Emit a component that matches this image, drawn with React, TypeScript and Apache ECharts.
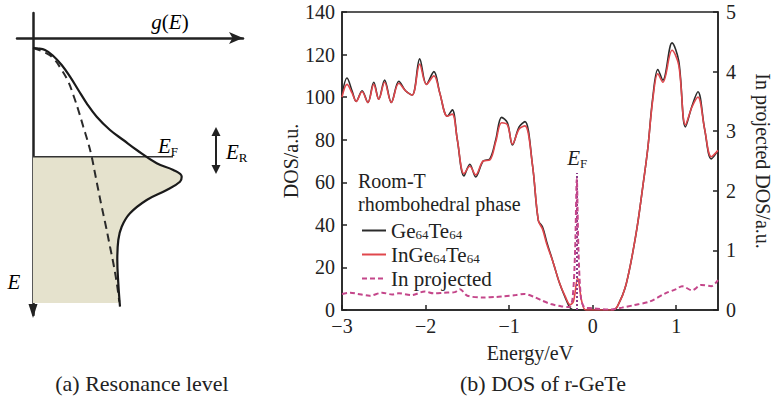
import React, { useEffect, useRef } from 'react';
import * as echarts from 'echarts';

const FONT = '"Liberation Serif", "Times New Roman", serif';
const INK = '#222222';

// ---------- Panel (b): DOS of r-GeTe ----------
// Ge64Te64 total DOS [energy eV, DOS a.u.]
const geTe: number[][] = [
  [-3.0, 101], [-2.94, 109], [-2.88, 103], [-2.83, 98], [-2.76, 103], [-2.69, 97.5],
  [-2.62, 107], [-2.56, 99], [-2.49, 108], [-2.41, 97.5], [-2.32, 107.5], [-2.24, 103],
  [-2.16, 101], [-2.07, 118], [-1.99, 106], [-1.9, 112], [-1.83, 102], [-1.74, 91],
  [-1.68, 94], [-1.62, 80], [-1.54, 63], [-1.47, 68.5], [-1.4, 62.5], [-1.31, 70],
  [-1.23, 71], [-1.16, 80], [-1.09, 90.5], [-1.02, 88], [-0.96, 77.5], [-0.88, 86],
  [-0.81, 88.5], [-0.72, 68], [-0.65, 42], [-0.6, 39], [-0.55, 32], [-0.47, 22],
  [-0.4, 13], [-0.33, 6], [-0.27, 1], [-0.22, 0], [0.25, 0], [0.3, 2], [0.4, 12],
  [0.52, 36], [0.6, 58], [0.66, 76], [0.72, 100], [0.78, 113], [0.84, 108],
  [0.95, 125.5], [1.03, 117], [1.11, 86], [1.19, 96], [1.26, 102.5], [1.34, 85],
  [1.42, 71], [1.5, 75],
];

// InGe64Te64 total DOS
const inGeTe: number[][] = [
  [-3.0, 100], [-2.94, 106], [-2.88, 102], [-2.83, 98], [-2.76, 102.5], [-2.69, 97.5],
  [-2.62, 106], [-2.56, 99], [-2.49, 107], [-2.41, 97.5], [-2.32, 106.5], [-2.24, 103],
  [-2.16, 101], [-2.07, 115.5], [-1.99, 106], [-1.9, 110], [-1.83, 102], [-1.74, 91],
  [-1.68, 92], [-1.62, 80], [-1.54, 64], [-1.47, 67.5], [-1.4, 63.5], [-1.31, 70],
  [-1.23, 70.5], [-1.16, 79], [-1.09, 88], [-1.02, 87], [-0.96, 78], [-0.88, 85],
  [-0.81, 86.5], [-0.72, 68], [-0.65, 42], [-0.6, 38], [-0.55, 31], [-0.47, 22],
  [-0.4, 13], [-0.33, 6.5], [-0.27, 2.5], [-0.23, 4], [-0.18, 15], [-0.13, 4],
  [-0.08, 0], [0.23, 0], [0.3, 2], [0.4, 12], [0.52, 36], [0.6, 58], [0.66, 76],
  [0.72, 99], [0.78, 111], [0.84, 107], [0.95, 122], [1.03, 115], [1.11, 87],
  [1.19, 95.5], [1.26, 100], [1.34, 85], [1.42, 72], [1.5, 75],
];

// In projected DOS (right axis)
const inProj: number[][] = [
  [-3.0, 0.27], [-2.9, 0.29], [-2.81, 0.27], [-2.67, 0.24], [-2.52, 0.29], [-2.4, 0.26],
  [-2.32, 0.28], [-2.17, 0.25], [-2.01, 0.31], [-1.9, 0.28], [-1.78, 0.29], [-1.65, 0.3],
  [-1.59, 0.35], [-1.5, 0.24], [-1.31, 0.21], [-1.15, 0.22], [-1.07, 0.23], [-0.92, 0.25],
  [-0.82, 0.27], [-0.7, 0.22], [-0.61, 0.16], [-0.5, 0.1], [-0.37, 0.06], [-0.28, 0.05],
  [-0.24, 0.2], [-0.21, 1.0], [-0.19, 2.2], [-0.17, 1.0], [-0.14, 0.2], [-0.1, 0.05],
  [-0.01, 0.03], [0.21, 0.01], [0.35, 0.04], [0.49, 0.08], [0.68, 0.14], [0.87, 0.28],
  [1.0, 0.35], [1.07, 0.4], [1.19, 0.33], [1.3, 0.42], [1.42, 0.4], [1.5, 0.5],
];

const fermiEnergy = -0.185;
const fermiMarkTop = 2.3;

const seriesNames = ['Ge64Te64', 'InGe64Te64', 'In projected'];
const legendLabels: Record<string, string> = {
  Ge64Te64: 'Ge{sub|64}Te{sub|64}',
  InGe64Te64: 'InGe{sub|64}Te{sub|64}',
  'In projected': 'In projected',
};

// ---------- Panel (a): resonance level schematic (g rightwards, E downwards) ----------
const gSolid: number[][] = [
  [0, 10], [4, 10.3], [12, 12], [20.3, 18], [28.7, 27], [37, 38.7], [45.3, 52],
  [53.7, 65.3], [63.7, 78.7], [77, 92], [90.3, 102], [103.7, 112], [123.7, 125.3],
  [140.3, 132], [148.7, 138.7], [147, 143.7], [133.7, 152], [113.7, 162], [97, 175.3],
  [88.7, 188.7], [85.3, 202], [84.3, 222], [85.3, 245.3], [87, 268.7],
];
const gDashed: number[][] = [
  [0, 10], [10.3, 13.7], [20.3, 20.3], [28.7, 32], [35.3, 43.7], [40.3, 57], [45.3, 72],
  [50.3, 88.7], [55.3, 105.3], [58.7, 118.7], [62, 135.3], [65.3, 152], [68.7, 168.7],
  [73, 188.7], [77, 208.7], [81, 228.7], [84.3, 248.7], [86.3, 263.7],
];
const fermiLevelA = 118.7;
const fermiLineA: number[][] = [[0, fermiLevelA], [140, fermiLevelA]];
const filledEdge: number[][] = [
  [0, fermiLevelA], [113, fermiLevelA], [119, 122.5], [126, 126.3], [133, 129.3], [140.3, 132],
  [145, 135], [148.7, 138.7], [148.8, 141.5], [147, 143.7], [141, 147.6], [133.7, 152],
  [123, 157], [113.7, 162], [104, 168.5], [97, 175.3], [92, 182], [88.7, 188.7],
  [86.5, 195], [85.3, 202], [84.5, 212], [84.3, 222], [84.6, 234], [85.3, 245.3],
  [86, 256], [86.6, 265], [0, 265],
];

export default function App() {
  const ref = useRef<HTMLDivElement>(null);

  useEffect(() => {
    const chart = echarts.init(ref.current!, null, { renderer: 'svg' });

    const tickLabel = { fontFamily: FONT, fontSize: 20, color: INK };
    const richE = {
      i: { fontFamily: FONT, fontStyle: 'italic', fontSize: 21, color: INK, lineHeight: 24 },
      n: { fontFamily: FONT, fontSize: 21, color: INK, lineHeight: 24 },
      s: { fontFamily: FONT, fontSize: 13, color: INK, lineHeight: 13, verticalAlign: 'bottom' },
    };
    const frameAxisLine = { show: true, onZero: false, lineStyle: { color: INK, width: 1.5 } };
    const inTick = { inside: true, length: 5, lineStyle: { color: INK, width: 1.5 } };

    const option: any = {
      animation: false,
      backgroundColor: '#ffffff',
      textStyle: { fontFamily: FONT },
      grid: [
        { left: 342, top: 12, width: 385, height: 298, show: true, borderColor: INK, borderWidth: 1.5, containLabel: false },
        { left: 17, top: 13, width: 226, height: 302, show: false, containLabel: false },
      ],
      xAxis: [
        {
          gridIndex: 0, type: 'value', min: -3, max: 1.5, interval: 1,
          name: 'Energy/eV', nameLocation: 'middle', nameGap: 33,
          nameTextStyle: { fontFamily: FONT, fontSize: 20, color: INK },
          axisLine: frameAxisLine,
          axisTick: inTick,
          axisLabel: { ...tickLabel, margin: 6, showMaxLabel: false, formatter: (v: number) => (v < 0 ? '\u2212' + Math.abs(v) : String(v)) },
          splitLine: { show: false },
        },
        {
          gridIndex: 1, type: 'value', min: -16, max: 210,
          axisLine: { show: true, onZero: true, symbol: ['none', 'arrow'], symbolSize: [9, 14], lineStyle: { color: INK, width: 2.5 } },
          axisTick: { show: false }, axisLabel: { show: false }, splitLine: { show: false },
        },
      ],
      yAxis: [
        {
          gridIndex: 0, type: 'value', min: 0, max: 140, interval: 20,
          name: 'DOS/a.u.', nameLocation: 'middle', nameGap: 32, nameRotate: 90,
          nameTextStyle: { fontFamily: FONT, fontSize: 20, color: INK },
          axisLine: frameAxisLine,
          axisTick: inTick,
          axisLabel: { ...tickLabel, margin: 7 },
          splitLine: { show: false },
        },
        {
          gridIndex: 0, type: 'value', min: 0, max: 5, interval: 1, position: 'right',
          name: 'In projected DOS/a.u.', nameLocation: 'middle', nameGap: 35, nameRotate: -90,
          nameTextStyle: { fontFamily: FONT, fontSize: 20, color: INK },
          axisLine: frameAxisLine,
          axisTick: inTick,
          axisLabel: { ...tickLabel, margin: 8 },
          splitLine: { show: false },
        },
        {
          gridIndex: 1, type: 'value', min: -25, max: 277, inverse: true,
          axisLine: { show: true, onZero: true, lineStyle: { color: INK, width: 2.5 } },
          axisTick: { show: false }, axisLabel: { show: false }, splitLine: { show: false },
        },
      ],
      legend: {
        left: 356, top: 215, orient: 'vertical', itemWidth: 24, itemHeight: 14, itemGap: 3,
        data: seriesNames,
        formatter: (name: string) => legendLabels[name],
        itemStyle: { opacity: 0 },
        textStyle: {
          fontFamily: FONT, fontSize: 21, color: INK, lineHeight: 20,
          rich: {
            sub: { fontFamily: FONT, fontSize: 13, color: INK, lineHeight: 12, verticalAlign: 'bottom' },
          },
        },
      },
      series: [
        // Panel (a)
        {
          type: 'custom', xAxisIndex: 1, yAxisIndex: 2, silent: true, z: 1,
          data: [[0, 0]],
          renderItem: (params: any, api: any) => {
            const pts = filledEdge.map((p) => api.coord(p));
            return { type: 'polygon', shape: { points: pts }, style: { fill: '#e5e2cd' } };
          },
        },
        {
          type: 'line', xAxisIndex: 1, yAxisIndex: 2, data: fermiLineA, symbol: 'none', z: 3,
          lineStyle: { color: '#333', width: 1.5 },
        },
        {
          type: 'line', xAxisIndex: 1, yAxisIndex: 2, data: gDashed, symbol: 'none', smooth: 0.4, z: 4,
          lineStyle: { color: '#2a2a2a', width: 2, type: [8, 5] },
        },
        {
          type: 'line', xAxisIndex: 1, yAxisIndex: 2, data: gSolid, symbol: 'none', smooth: 0.4, z: 5,
          lineStyle: { color: '#1a1a1a', width: 2.2 },
        },
        // Panel (b)
        {
          name: 'Ge64Te64', type: 'line', xAxisIndex: 0, yAxisIndex: 0, data: geTe, symbol: 'none', smooth: 0.35, z: 3,
          lineStyle: { color: '#2b2b2b', width: 1.6 }, itemStyle: { color: '#2b2b2b' },
        },
        {
          name: 'InGe64Te64', type: 'line', xAxisIndex: 0, yAxisIndex: 0, data: inGeTe, symbol: 'none', smooth: 0.35, z: 4,
          lineStyle: { color: '#e0474c', width: 1.6 }, itemStyle: { color: '#e0474c' },
        },
        {
          name: 'In projected', type: 'line', xAxisIndex: 0, yAxisIndex: 1, data: inProj, symbol: 'none', smooth: 0.3, z: 5,
          lineStyle: { color: '#c4468a', width: 2, type: [5, 3] }, itemStyle: { color: '#c4468a' },
          markLine: {
            silent: true, symbol: 'none',
            lineStyle: { color: '#8a3c8a', type: 'dotted', width: 2 },
            label: { show: true, position: 'end', distance: 3, formatter: '{i|E}{s|F}', rich: richE },
            data: [[{ coord: [fermiEnergy, 0] }, { coord: [fermiEnergy, fermiMarkTop] }]],
          },
        },
      ],
      graphic: [
        { type: 'polygon', shape: { points: [[33, 318], [28.5, 304], [37.5, 304]] }, style: { fill: INK } },
        { type: 'text', x: 170, y: 22, style: { text: '{i|g}{n|(}{i|E}{n|)}', rich: richE, align: 'center', verticalAlign: 'middle' } },
        { type: 'text', x: 14, y: 282, style: { text: '{i|E}', rich: richE, align: 'center', verticalAlign: 'middle' } },
        { type: 'text', x: 158, y: 146, style: { text: '{i|E}{s|F}', rich: richE, align: 'left', verticalAlign: 'middle' } },
        { type: 'text', x: 226, y: 152, style: { text: '{i|E}{s|R}', rich: richE, align: 'left', verticalAlign: 'middle' } },
        { type: 'line', shape: { x1: 216, y1: 134, x2: 216, y2: 167 }, style: { stroke: INK, lineWidth: 2 } },
        { type: 'polygon', shape: { points: [[216, 127], [211.5, 136], [220.5, 136]] }, style: { fill: INK } },
        { type: 'polygon', shape: { points: [[216, 174], [211.5, 165], [220.5, 165]] }, style: { fill: INK } },
        { type: 'text', x: 358, y: 192, style: { text: 'Room-T\nrhombohedral phase', font: `20px ${FONT}`, lineHeight: 23, fill: INK, align: 'left', verticalAlign: 'middle' } },
        { type: 'text', x: 142, y: 383, style: { text: '(a) Resonance level', font: `22px ${FONT}`, fill: INK, align: 'center', verticalAlign: 'middle' } },
        { type: 'text', x: 543, y: 383, style: { text: '(b) DOS of r-GeTe', font: `22px ${FONT}`, fill: INK, align: 'center', verticalAlign: 'middle' } },
      ],
    };

    chart.setOption(option);
    return () => chart.dispose();
  }, []);

  return <div ref={ref} style={{ position: 'absolute', left: 0, top: 0, width: 774, height: 399 }} />;
}
